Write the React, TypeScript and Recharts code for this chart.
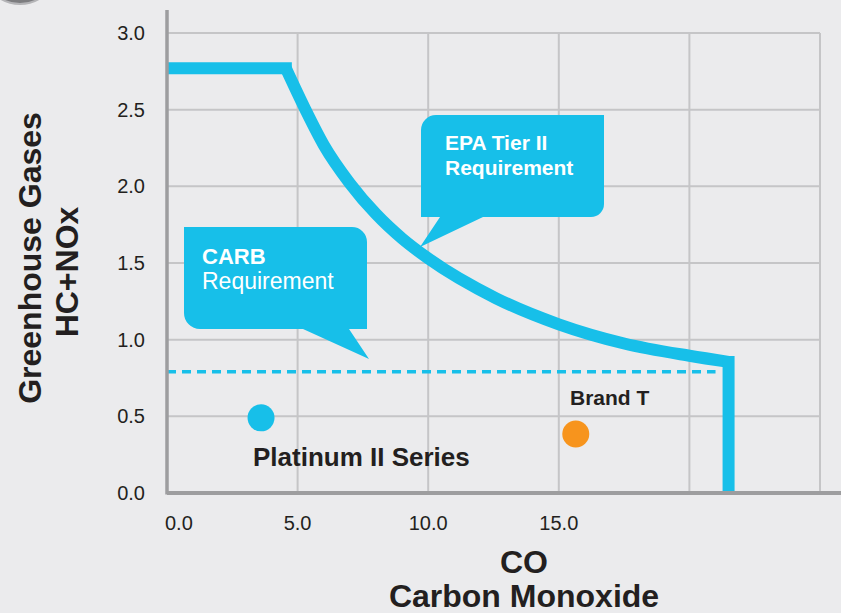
import React from "react";
import {
  CartesianGrid,
  ComposedChart,
  Line,
  ReferenceLine,
  Scatter,
  XAxis,
  YAxis,
} from "recharts";

// EPA Tier II limit: flat top, curved middle, vertical cut-off
const epaTopCo = [0, 4.55];
const epaTopHc = [2.77, 2.77];
const epaCurveCo = [4.55, 5.3, 6, 7, 8, 9, 10, 12.6, 15, 17.5, 20, 21.5];
const epaCurveHc = [2.77, 2.5, 2.27, 2.02, 1.82, 1.66, 1.53, 1.27, 1.1, 0.975, 0.895, 0.855];
const epaEdgeCo = [21.5, 21.5];
const epaEdgeHc = [0.855, 0];

// CARB limit (dashed)
const carbCo = [0, 21.0];
const carbHc = [0.79, 0.79];

// measured engines
const productNames = ["Platinum II Series", "Brand T"];
const productCo = [3.6, 15.65];
const productHc = [0.49, 0.385];
const productColors = ["#17bfe9", "#f7941d"];

const xTicks = [0, 5, 10, 15, 20, 25];
const xTickLabels = ["0.0", "5.0", "10.0", "15.0", "", ""];
const yTicks = [0, 0.5, 1, 1.5, 2, 2.5, 3];

const CYAN = "#17bfe9";
const INK = "#231f20";
const FONT = '"Liberation Sans", Arial, sans-serif';

const toPoints = (xs: number[], ys: number[]) => xs.map((x, i) => ({ x, y: ys[i] }));
const epaTop = toPoints(epaTopCo, epaTopHc);
const epaCurve = toPoints(epaCurveCo, epaCurveHc);
const epaEdge = toPoints(epaEdgeCo, epaEdgeHc);
const carbData = toPoints(carbCo, carbHc);
const productData = productNames.map((name, i) => [
  { name, x: productCo[i], y: productHc[i] },
]);

function XTick(props: any) {
  const { x, y, payload } = props;
  const idx = xTicks.indexOf(payload.value);
  const label = idx >= 0 ? xTickLabels[idx] : "";
  if (!label) return null;
  const first = payload.value === 0;
  return (
    <text
      x={first ? x - 2 : x}
      y={y + 37}
      textAnchor={first ? "start" : "middle"}
      fontSize={20}
      fill={INK}
      fontFamily={FONT}
    >
      {label}
    </text>
  );
}

export default function App() {
  return (
    <div
      style={{
        position: "absolute",
        left: 0,
        top: 0,
        width: 841,
        height: 613,
        background: "#ebebed",
        overflow: "hidden",
        fontFamily: FONT,
      }}
    >
      <ComposedChart
        width={841}
        height={613}
        margin={{ top: 33, right: 21, bottom: 90, left: 0 }}
      >
        <CartesianGrid stroke="#c5c5c7" strokeWidth={2} />
        <XAxis
          type="number"
          dataKey="x"
          domain={[0, 25]}
          allowDataOverflow
          ticks={xTicks}
          tick={<XTick />}
          tickLine={false}
          tickSize={0}
          tickMargin={0}
          height={30}
          axisLine={{ stroke: "#9d9d9f", strokeWidth: 4 }}
        />
        <YAxis
          type="number"
          dataKey="y"
          domain={[0, 3]}
          allowDataOverflow
          ticks={yTicks}
          tickFormatter={(v: number) => v.toFixed(1)}
          width={167}
          tickLine={false}
          tickSize={0}
          tickMargin={22}
          axisLine={false}
          tick={{ fill: INK, fontSize: 20, fontFamily: FONT }}
        />
        <Line
          data={carbData}
          dataKey="y"
          type="linear"
          stroke={CYAN}
          strokeWidth={3.5}
          strokeDasharray="9 6"
          dot={false}
          isAnimationActive={false}
        />
        <Line
          data={epaTop}
          dataKey="y"
          type="linear"
          stroke={CYAN}
          strokeWidth={12}
          strokeLinecap="square"
          dot={false}
          isAnimationActive={false}
        />
        <Line
          data={epaCurve}
          dataKey="y"
          type="monotone"
          stroke={CYAN}
          strokeWidth={12}
          dot={false}
          isAnimationActive={false}
        />
        <Line
          data={epaEdge}
          dataKey="y"
          type="linear"
          stroke={CYAN}
          strokeWidth={12}
          strokeLinecap="square"
          dot={false}
          isAnimationActive={false}
        />
        {productData.map((d, i) => (
          <Scatter
            key={productNames[i]}
            data={d}
            dataKey="y"
            isAnimationActive={false}
            shape={(p: any) => (
              <circle cx={p.cx} cy={p.cy} r={13.5} fill={productColors[i]} />
            )}
          />
        ))}
        <ReferenceLine
          segment={[{ x: 0, y: -0.01 }, { x: 0, y: 3.15 }]}
          ifOverflow="visible"
          stroke="#9d9d9f"
          strokeWidth={3.5}
        />
        <ReferenceLine
          segment={[{ x: 25, y: 0 }, { x: 25.82, y: 0 }]}
          ifOverflow="visible"
          stroke="#9d9d9f"
          strokeWidth={4}
        />
      </ComposedChart>

      <svg
        width={841}
        height={613}
        style={{ position: "absolute", left: 0, top: 0, pointerEvents: "none" }}
        fontFamily={FONT}
      >
        {/* decoration cut off at the top-left corner */}
        <ellipse cx={20} cy={-30} rx={36} ry={34} fill="#7d7d80" stroke="#b5b5b8" strokeWidth={2} />

        {/* EPA callout */}
        <path
          d="M436,115 H604 V204 A13,13 0 0 1 591,217 H483 L420,247 L440,217 H421 V130 A15,15 0 0 1 436,115 Z"
          fill={CYAN}
        />
        <text x={445} y={150} fill="#fff" fontSize={21} fontWeight="bold">EPA Tier II</text>
        <text x={445} y={175} fill="#fff" fontSize={21} fontWeight="bold">Requirement</text>

        {/* CARB callout */}
        <path
          d="M184,227 H352 A15,15 0 0 1 367,242 V329 H349 L369,359 L303,329 H200 A16,16 0 0 1 184,313 Z"
          fill={CYAN}
        />
        <text x={202} y={264} fill="#fff" fontSize={22} fontWeight="bold">CARB</text>
        <text x={202} y={289} fill="#fff" fontSize={23}>Requirement</text>

        {/* point labels */}
        <text x={253} y={466} fill={INK} fontSize={26} fontWeight="bold">Platinum II Series</text>
        <text x={570} y={405} fill={INK} fontSize={21} fontWeight="bold">Brand T</text>

        {/* axis titles */}
        <text x={524} y={573} textAnchor="middle" fill={INK} fontSize={32} fontWeight="bold">CO</text>
        <text x={524} y={607} textAnchor="middle" fill={INK} fontSize={32} fontWeight="bold">Carbon Monoxide</text>
        <text
          transform="translate(41,258) rotate(-90)"
          textAnchor="middle"
          fill={INK}
          fontSize={32}
          fontWeight="bold"
        >
          Greenhouse Gases
        </text>
        <text
          transform="translate(78,272) rotate(-90)"
          textAnchor="middle"
          fill={INK}
          fontSize={32}
          fontWeight="bold"
        >
          HC+NOx
        </text>
      </svg>
    </div>
  );
}
